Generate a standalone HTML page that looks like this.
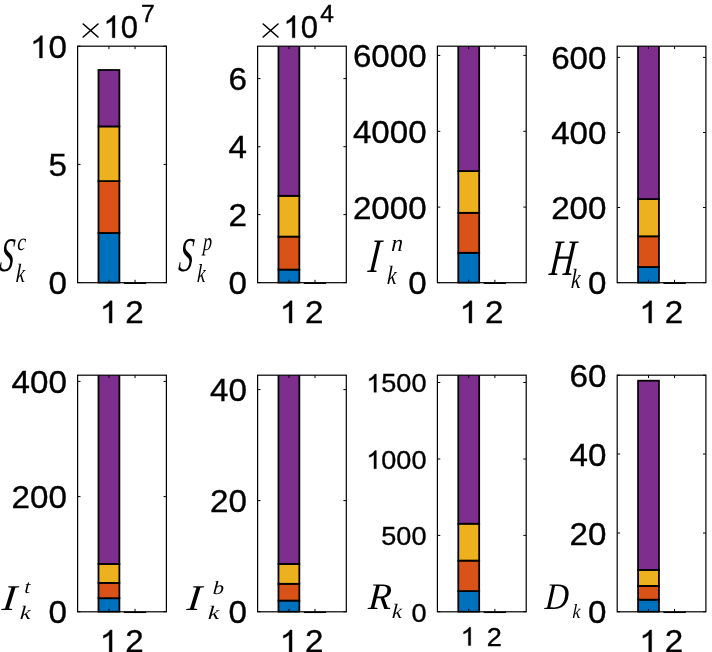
<!DOCTYPE html>
<html><head><meta charset="utf-8"><title>Stacked bars</title>
<style>html,body{margin:0;padding:0;background:#fff;width:712px;height:652px;overflow:hidden}svg{display:block;will-change:transform}</style>
</head><body><svg width="712" height="652" viewBox="0 0 712 652" font-family='"Liberation Sans", sans-serif' fill="#000"><g><clipPath id="c0"><rect x="76.60" y="46.20" width="90.80" height="237.50"/></clipPath><g clip-path="url(#c0)"><rect x="98.49" y="233.00" width="20.89" height="49.70" fill="#0072BD" stroke="#000" stroke-width="1.8"/><rect x="98.49" y="181.10" width="20.89" height="51.90" fill="#D95319" stroke="#000" stroke-width="1.8"/><rect x="98.49" y="126.40" width="20.89" height="54.70" fill="#EDB120" stroke="#000" stroke-width="1.8"/><rect x="98.49" y="70.00" width="20.89" height="56.40" fill="#7E2F8E" stroke="#000" stroke-width="1.8"/></g><line x1="124.61" y1="283.20" x2="145.51" y2="283.20" stroke="#000" stroke-width="1.5" stroke-linecap="square"/><rect x="77.60" y="46.20" width="88.80" height="236.50" fill="none" stroke="#000" stroke-width="1.2"/><path d="M108.94,282.70v-2.90M108.94,46.20v2.90M135.06,282.70v-2.90M135.06,46.20v2.90M77.60,46.20h2.90M166.40,46.20h-2.90M77.60,164.40h2.90M166.40,164.40h-2.90M77.60,282.60h2.90M166.40,282.60h-2.90" stroke="#000" stroke-width="1" fill="none"/><path d="M373,0L285,0L285,-560Q253,-530 202,-500Q150,-469 109,-454L109,-539Q183,-574 238,-623Q293,-672 316,-719L373,-719Z" transform="translate(30.01 57.96) scale(0.03317 0.03100)" stroke="#000" stroke-width="11.3"/><text x="0" y="0" transform="translate(48.45 57.96) scale(1.0700 1)" font-size="31.00" stroke="#000" stroke-width="0.350">0</text><text x="0" y="0" transform="translate(48.45 176.16) scale(1.0700 1)" font-size="31.00" stroke="#000" stroke-width="0.350">5</text><text x="0" y="0" transform="translate(48.45 294.36) scale(1.0700 1)" font-size="31.00" stroke="#000" stroke-width="0.350">0</text><path d="M373,0L285,0L285,-560Q253,-530 202,-500Q150,-469 109,-454L109,-539Q183,-574 238,-623Q293,-672 316,-719L373,-719Z" transform="translate(99.72 323.10) scale(0.03317 0.03100)" stroke="#000" stroke-width="11.3"/><text x="0" y="0" transform="translate(125.14 323.10) scale(1.0700 1)" font-size="31.00" stroke="#000" stroke-width="0.350">2</text></g><g><clipPath id="c1"><rect x="256.60" y="46.20" width="90.70" height="237.50"/></clipPath><g clip-path="url(#c1)"><rect x="278.47" y="269.60" width="20.87" height="13.10" fill="#0072BD" stroke="#000" stroke-width="1.8"/><rect x="278.47" y="236.60" width="20.87" height="33.00" fill="#D95319" stroke="#000" stroke-width="1.8"/><rect x="278.47" y="195.80" width="20.87" height="40.80" fill="#EDB120" stroke="#000" stroke-width="1.8"/><rect x="278.47" y="41.20" width="20.87" height="154.60" fill="#7E2F8E" stroke="#000" stroke-width="1.8"/></g><line x1="304.56" y1="283.20" x2="325.43" y2="283.20" stroke="#000" stroke-width="1.5" stroke-linecap="square"/><rect x="257.60" y="46.20" width="88.70" height="236.50" fill="none" stroke="#000" stroke-width="1.2"/><path d="M288.91,282.70v-2.90M288.91,46.20v2.90M314.99,282.70v-2.90M314.99,46.20v2.90M257.60,78.60h2.90M346.30,78.60h-2.90M257.60,146.70h2.90M346.30,146.70h-2.90M257.60,214.60h2.90M346.30,214.60h-2.90M257.60,282.60h2.90M346.30,282.60h-2.90" stroke="#000" stroke-width="1" fill="none"/><text x="0" y="0" transform="translate(228.45 90.36) scale(1.0700 1)" font-size="31.00" stroke="#000" stroke-width="0.350">6</text><text x="0" y="0" transform="translate(228.45 158.46) scale(1.0700 1)" font-size="31.00" stroke="#000" stroke-width="0.350">4</text><text x="0" y="0" transform="translate(228.45 226.36) scale(1.0700 1)" font-size="31.00" stroke="#000" stroke-width="0.350">2</text><text x="0" y="0" transform="translate(228.45 294.36) scale(1.0700 1)" font-size="31.00" stroke="#000" stroke-width="0.350">0</text><path d="M373,0L285,0L285,-560Q253,-530 202,-500Q150,-469 109,-454L109,-539Q183,-574 238,-623Q293,-672 316,-719L373,-719Z" transform="translate(279.68 323.10) scale(0.03317 0.03100)" stroke="#000" stroke-width="11.3"/><text x="0" y="0" transform="translate(305.07 323.10) scale(1.0700 1)" font-size="31.00" stroke="#000" stroke-width="0.350">2</text></g><g><clipPath id="c2"><rect x="436.40" y="46.20" width="90.80" height="237.50"/></clipPath><g clip-path="url(#c2)"><rect x="458.29" y="252.80" width="20.89" height="29.90" fill="#0072BD" stroke="#000" stroke-width="1.8"/><rect x="458.29" y="212.80" width="20.89" height="40.00" fill="#D95319" stroke="#000" stroke-width="1.8"/><rect x="458.29" y="171.10" width="20.89" height="41.70" fill="#EDB120" stroke="#000" stroke-width="1.8"/><rect x="458.29" y="41.20" width="20.89" height="129.90" fill="#7E2F8E" stroke="#000" stroke-width="1.8"/></g><line x1="484.41" y1="283.20" x2="505.31" y2="283.20" stroke="#000" stroke-width="1.5" stroke-linecap="square"/><rect x="437.40" y="46.20" width="88.80" height="236.50" fill="none" stroke="#000" stroke-width="1.2"/><path d="M468.74,282.70v-2.90M468.74,46.20v2.90M494.86,282.70v-2.90M494.86,46.20v2.90M437.40,55.40h2.90M526.20,55.40h-2.90M437.40,131.30h2.90M526.20,131.30h-2.90M437.40,207.10h2.90M526.20,207.10h-2.90M437.40,282.60h2.90M526.20,282.60h-2.90" stroke="#000" stroke-width="1" fill="none"/><text x="0" y="0" transform="translate(352.92 67.16) scale(1.0700 1)" font-size="31.00" stroke="#000" stroke-width="0.350">6000</text><text x="0" y="0" transform="translate(352.92 143.06) scale(1.0700 1)" font-size="31.00" stroke="#000" stroke-width="0.350">4000</text><text x="0" y="0" transform="translate(352.92 218.86) scale(1.0700 1)" font-size="31.00" stroke="#000" stroke-width="0.350">2000</text><text x="0" y="0" transform="translate(408.25 294.36) scale(1.0700 1)" font-size="31.00" stroke="#000" stroke-width="0.350">0</text><path d="M373,0L285,0L285,-560Q253,-530 202,-500Q150,-469 109,-454L109,-539Q183,-574 238,-623Q293,-672 316,-719L373,-719Z" transform="translate(459.52 323.10) scale(0.03317 0.03100)" stroke="#000" stroke-width="11.3"/><text x="0" y="0" transform="translate(484.94 323.10) scale(1.0700 1)" font-size="31.00" stroke="#000" stroke-width="0.350">2</text></g><g><clipPath id="c3"><rect x="616.20" y="46.20" width="90.70" height="237.50"/></clipPath><g clip-path="url(#c3)"><rect x="638.07" y="267.00" width="20.87" height="15.70" fill="#0072BD" stroke="#000" stroke-width="1.8"/><rect x="638.07" y="236.30" width="20.87" height="30.70" fill="#D95319" stroke="#000" stroke-width="1.8"/><rect x="638.07" y="199.10" width="20.87" height="37.20" fill="#EDB120" stroke="#000" stroke-width="1.8"/><rect x="638.07" y="41.20" width="20.87" height="157.90" fill="#7E2F8E" stroke="#000" stroke-width="1.8"/></g><line x1="664.16" y1="283.20" x2="685.03" y2="283.20" stroke="#000" stroke-width="1.5" stroke-linecap="square"/><rect x="617.20" y="46.20" width="88.70" height="236.50" fill="none" stroke="#000" stroke-width="1.2"/><path d="M648.51,282.70v-2.90M648.51,46.20v2.90M674.59,282.70v-2.90M674.59,46.20v2.90M617.20,57.40h2.90M705.90,57.40h-2.90M617.20,132.50h2.90M705.90,132.50h-2.90M617.20,207.50h2.90M705.90,207.50h-2.90M617.20,282.60h2.90M705.90,282.60h-2.90" stroke="#000" stroke-width="1" fill="none"/><text x="0" y="0" transform="translate(551.17 69.16) scale(1.0700 1)" font-size="31.00" stroke="#000" stroke-width="0.350">600</text><text x="0" y="0" transform="translate(551.17 144.26) scale(1.0700 1)" font-size="31.00" stroke="#000" stroke-width="0.350">400</text><text x="0" y="0" transform="translate(551.17 219.26) scale(1.0700 1)" font-size="31.00" stroke="#000" stroke-width="0.350">200</text><text x="0" y="0" transform="translate(588.05 294.36) scale(1.0700 1)" font-size="31.00" stroke="#000" stroke-width="0.350">0</text><path d="M373,0L285,0L285,-560Q253,-530 202,-500Q150,-469 109,-454L109,-539Q183,-574 238,-623Q293,-672 316,-719L373,-719Z" transform="translate(639.28 323.10) scale(0.03317 0.03100)" stroke="#000" stroke-width="11.3"/><text x="0" y="0" transform="translate(664.67 323.10) scale(1.0700 1)" font-size="31.00" stroke="#000" stroke-width="0.350">2</text></g><g><clipPath id="c4"><rect x="76.60" y="375.20" width="90.80" height="237.60"/></clipPath><g clip-path="url(#c4)"><rect x="98.49" y="598.20" width="20.89" height="13.60" fill="#0072BD" stroke="#000" stroke-width="1.8"/><rect x="98.49" y="582.90" width="20.89" height="15.30" fill="#D95319" stroke="#000" stroke-width="1.8"/><rect x="98.49" y="563.90" width="20.89" height="19.00" fill="#EDB120" stroke="#000" stroke-width="1.8"/><rect x="98.49" y="370.20" width="20.89" height="193.70" fill="#7E2F8E" stroke="#000" stroke-width="1.8"/></g><line x1="124.61" y1="612.30" x2="145.51" y2="612.30" stroke="#000" stroke-width="1.5" stroke-linecap="square"/><rect x="77.60" y="375.20" width="88.80" height="236.60" fill="none" stroke="#000" stroke-width="1.2"/><path d="M108.94,611.80v-2.90M108.94,375.20v2.90M135.06,611.80v-2.90M135.06,375.20v2.90M77.60,381.40h2.90M166.40,381.40h-2.90M77.60,496.60h2.90M166.40,496.60h-2.90M77.60,611.70h2.90M166.40,611.70h-2.90" stroke="#000" stroke-width="1" fill="none"/><text x="0" y="0" transform="translate(11.57 393.16) scale(1.0700 1)" font-size="31.00" stroke="#000" stroke-width="0.350">400</text><text x="0" y="0" transform="translate(11.57 508.36) scale(1.0700 1)" font-size="31.00" stroke="#000" stroke-width="0.350">200</text><text x="0" y="0" transform="translate(48.45 623.46) scale(1.0700 1)" font-size="31.00" stroke="#000" stroke-width="0.350">0</text><path d="M373,0L285,0L285,-560Q253,-530 202,-500Q150,-469 109,-454L109,-539Q183,-574 238,-623Q293,-672 316,-719L373,-719Z" transform="translate(99.72 652.20) scale(0.03317 0.03100)" stroke="#000" stroke-width="11.3"/><text x="0" y="0" transform="translate(125.14 652.20) scale(1.0700 1)" font-size="31.00" stroke="#000" stroke-width="0.350">2</text></g><g><clipPath id="c5"><rect x="256.60" y="375.20" width="90.70" height="237.60"/></clipPath><g clip-path="url(#c5)"><rect x="278.47" y="600.60" width="20.87" height="11.20" fill="#0072BD" stroke="#000" stroke-width="1.8"/><rect x="278.47" y="583.80" width="20.87" height="16.80" fill="#D95319" stroke="#000" stroke-width="1.8"/><rect x="278.47" y="563.90" width="20.87" height="19.90" fill="#EDB120" stroke="#000" stroke-width="1.8"/><rect x="278.47" y="370.20" width="20.87" height="193.70" fill="#7E2F8E" stroke="#000" stroke-width="1.8"/></g><line x1="304.56" y1="612.30" x2="325.43" y2="612.30" stroke="#000" stroke-width="1.5" stroke-linecap="square"/><rect x="257.60" y="375.20" width="88.70" height="236.60" fill="none" stroke="#000" stroke-width="1.2"/><path d="M288.91,611.80v-2.90M288.91,375.20v2.90M314.99,611.80v-2.90M314.99,375.20v2.90M257.60,389.60h2.90M346.30,389.60h-2.90M257.60,500.60h2.90M346.30,500.60h-2.90M257.60,611.70h2.90M346.30,611.70h-2.90" stroke="#000" stroke-width="1" fill="none"/><text x="0" y="0" transform="translate(210.01 401.36) scale(1.0700 1)" font-size="31.00" stroke="#000" stroke-width="0.350">40</text><text x="0" y="0" transform="translate(210.01 512.36) scale(1.0700 1)" font-size="31.00" stroke="#000" stroke-width="0.350">20</text><text x="0" y="0" transform="translate(228.45 623.46) scale(1.0700 1)" font-size="31.00" stroke="#000" stroke-width="0.350">0</text><path d="M373,0L285,0L285,-560Q253,-530 202,-500Q150,-469 109,-454L109,-539Q183,-574 238,-623Q293,-672 316,-719L373,-719Z" transform="translate(279.68 652.20) scale(0.03317 0.03100)" stroke="#000" stroke-width="11.3"/><text x="0" y="0" transform="translate(305.07 652.20) scale(1.0700 1)" font-size="31.00" stroke="#000" stroke-width="0.350">2</text></g><g><clipPath id="c6"><rect x="436.40" y="375.20" width="90.80" height="237.60"/></clipPath><g clip-path="url(#c6)"><rect x="458.29" y="591.10" width="20.89" height="20.70" fill="#0072BD" stroke="#000" stroke-width="1.8"/><rect x="458.29" y="560.60" width="20.89" height="30.50" fill="#D95319" stroke="#000" stroke-width="1.8"/><rect x="458.29" y="523.70" width="20.89" height="36.90" fill="#EDB120" stroke="#000" stroke-width="1.8"/><rect x="458.29" y="370.20" width="20.89" height="153.50" fill="#7E2F8E" stroke="#000" stroke-width="1.8"/></g><line x1="484.41" y1="612.30" x2="505.31" y2="612.30" stroke="#000" stroke-width="1.5" stroke-linecap="square"/><rect x="437.40" y="375.20" width="88.80" height="236.60" fill="none" stroke="#000" stroke-width="1.2"/><path d="M468.74,611.80v-2.90M468.74,375.20v2.90M494.86,611.80v-2.90M494.86,375.20v2.90M437.40,382.50h2.90M526.20,382.50h-2.90M437.40,459.00h2.90M526.20,459.00h-2.90M437.40,535.40h2.90M526.20,535.40h-2.90M437.40,611.70h2.90M526.20,611.70h-2.90" stroke="#000" stroke-width="1" fill="none"/><path d="M373,0L285,0L285,-560Q253,-530 202,-500Q150,-469 109,-454L109,-539Q183,-574 238,-623Q293,-672 316,-719L373,-719Z" transform="translate(366.25 392.30) scale(0.02707 0.02530)" stroke="#000" stroke-width="13.8"/><text x="0" y="0" transform="translate(381.30 392.30) scale(1.0700 1)" font-size="25.30" stroke="#000" stroke-width="0.350">500</text><path d="M373,0L285,0L285,-560Q253,-530 202,-500Q150,-469 109,-454L109,-539Q183,-574 238,-623Q293,-672 316,-719L373,-719Z" transform="translate(366.25 468.80) scale(0.02707 0.02530)" stroke="#000" stroke-width="13.8"/><text x="0" y="0" transform="translate(381.30 468.80) scale(1.0700 1)" font-size="25.30" stroke="#000" stroke-width="0.350">000</text><text x="0" y="0" transform="translate(381.30 545.20) scale(1.0700 1)" font-size="25.30" stroke="#000" stroke-width="0.350">500</text><text x="0" y="0" transform="translate(411.40 621.50) scale(1.0700 1)" font-size="25.30" stroke="#000" stroke-width="0.350">0</text><path d="M373,0L285,0L285,-560Q253,-530 202,-500Q150,-469 109,-454L109,-539Q183,-574 238,-623Q293,-672 316,-719L373,-719Z" transform="translate(460.62 645.50) scale(0.02707 0.02530)" stroke="#000" stroke-width="13.8"/><text x="0" y="0" transform="translate(486.63 645.50) scale(1.0700 1)" font-size="25.30" stroke="#000" stroke-width="0.350">2</text></g><g><clipPath id="c7"><rect x="616.20" y="375.20" width="90.70" height="237.60"/></clipPath><g clip-path="url(#c7)"><rect x="638.07" y="599.70" width="20.87" height="12.10" fill="#0072BD" stroke="#000" stroke-width="1.8"/><rect x="638.07" y="585.90" width="20.87" height="13.80" fill="#D95319" stroke="#000" stroke-width="1.8"/><rect x="638.07" y="569.90" width="20.87" height="16.00" fill="#EDB120" stroke="#000" stroke-width="1.8"/><rect x="638.07" y="380.70" width="20.87" height="189.20" fill="#7E2F8E" stroke="#000" stroke-width="1.8"/></g><line x1="664.16" y1="612.30" x2="685.03" y2="612.30" stroke="#000" stroke-width="1.5" stroke-linecap="square"/><rect x="617.20" y="375.20" width="88.70" height="236.60" fill="none" stroke="#000" stroke-width="1.2"/><path d="M648.51,611.80v-2.90M648.51,375.20v2.90M674.59,611.80v-2.90M674.59,375.20v2.90M617.20,375.20h2.90M705.90,375.20h-2.90M617.20,454.00h2.90M705.90,454.00h-2.90M617.20,533.00h2.90M705.90,533.00h-2.90M617.20,611.70h2.90M705.90,611.70h-2.90" stroke="#000" stroke-width="1" fill="none"/><text x="0" y="0" transform="translate(569.61 386.96) scale(1.0700 1)" font-size="31.00" stroke="#000" stroke-width="0.350">60</text><text x="0" y="0" transform="translate(569.61 465.76) scale(1.0700 1)" font-size="31.00" stroke="#000" stroke-width="0.350">40</text><text x="0" y="0" transform="translate(569.61 544.76) scale(1.0700 1)" font-size="31.00" stroke="#000" stroke-width="0.350">20</text><text x="0" y="0" transform="translate(588.05 623.46) scale(1.0700 1)" font-size="31.00" stroke="#000" stroke-width="0.350">0</text><path d="M373,0L285,0L285,-560Q253,-530 202,-500Q150,-469 109,-454L109,-539Q183,-574 238,-623Q293,-672 316,-719L373,-719Z" transform="translate(639.28 652.20) scale(0.03317 0.03100)" stroke="#000" stroke-width="11.3"/><text x="0" y="0" transform="translate(664.67 652.20) scale(1.0700 1)" font-size="31.00" stroke="#000" stroke-width="0.350">2</text></g><path d="M83.20,24.00L98.00,37.00M98.00,24.00L83.20,37.00" stroke="#000" stroke-width="1.6" stroke-linecap="round"/><path d="M373,0L285,0L285,-560Q253,-530 202,-500Q150,-469 109,-454L109,-539Q183,-574 238,-623Q293,-672 316,-719L373,-719Z" transform="translate(103.42 37.80) scale(0.03100 0.03100)" stroke="#000" stroke-width="11.3"/><text x="0" y="0" transform="translate(120.66 37.80) scale(1.0000 1)" font-size="31.00" stroke="#000" stroke-width="0.350">0</text><text x="0" y="0" transform="translate(141.12 22.24) scale(1.0170 1)" font-size="24.29" font-family='"Liberation Sans"' stroke="#000" stroke-width="0.350">7</text><path d="M263.20,24.00L278.00,37.00M278.00,24.00L263.20,37.00" stroke="#000" stroke-width="1.6" stroke-linecap="round"/><path d="M373,0L285,0L285,-560Q253,-530 202,-500Q150,-469 109,-454L109,-539Q183,-574 238,-623Q293,-672 316,-719L373,-719Z" transform="translate(283.42 37.80) scale(0.03100 0.03100)" stroke="#000" stroke-width="11.3"/><text x="0" y="0" transform="translate(300.66 37.80) scale(1.0000 1)" font-size="31.00" stroke="#000" stroke-width="0.350">0</text><text x="0" y="0" transform="translate(320.29 22.04) scale(1.0127 1)" font-size="24.29" font-family='"Liberation Sans"' stroke="#000" stroke-width="0.350">4</text><text x="0" y="0" transform="translate(-1.30 270.90) skewX(-6.00) scale(0.5827 1)" font-size="48.51" font-family='"Liberation Serif"' font-style="italic">S</text><text x="0" y="0" transform="translate(17.10 250.10) skewX(-3.00) scale(0.7954 1)" font-size="24.55" font-family='"Liberation Serif"' font-style="italic">c</text><text x="0" y="0" transform="translate(15.55 282.44) skewX(-3.00) scale(0.7763 1)" font-size="26.38" font-family='"Liberation Serif"' font-style="italic">k</text><text x="0" y="0" transform="translate(177.79 270.99) skewX(-6.00) scale(0.5871 1)" font-size="48.81" font-family='"Liberation Serif"' font-style="italic">S</text><text x="0" y="0" transform="translate(202.77 250.15) skewX(-3.00) scale(0.7086 1)" font-size="25.29" font-family='"Liberation Serif"' font-style="italic">p</text><text x="0" y="0" transform="translate(196.70 282.44) skewX(-3.00) scale(0.7266 1)" font-size="25.94" font-family='"Liberation Serif"' font-style="italic">k</text><text x="0" y="0" transform="translate(367.15 271.68) skewX(-6.00) scale(0.7404 1)" font-size="48.15" font-family='"Liberation Serif"' font-style="italic">I</text><text x="0" y="0" transform="translate(390.90 250.54) skewX(-3.00) scale(0.9770 1)" font-size="24.00" font-family='"Liberation Serif"' font-style="italic">n</text><text x="0" y="0" transform="translate(386.83 284.34) skewX(-3.00) scale(0.8032 1)" font-size="26.38" font-family='"Liberation Serif"' font-style="italic">k</text><text x="0" y="0" transform="translate(548.48 274.69) skewX(-6.00) scale(0.6792 1)" font-size="51.38" font-family='"Liberation Serif"' font-style="italic">H</text><text x="0" y="0" transform="translate(570.63 287.55) skewX(-3.00) scale(0.7584 1)" font-size="27.83" font-family='"Liberation Serif"' font-style="italic">k</text><text x="0" y="0" transform="translate(1.26 609.66) skewX(-6.00) scale(1.1523 1)" font-size="36.31" font-family='"Liberation Serif"' font-style="italic">I</text><text x="0" y="0" transform="translate(24.13 593.34) skewX(-3.00) scale(1.0831 1)" font-size="19.12" font-family='"Liberation Serif"' font-style="italic">t</text><text x="0" y="0" transform="translate(19.85 618.83) skewX(-3.00) scale(1.2400 1)" font-size="19.13" font-family='"Liberation Serif"' font-style="italic">k</text><text x="0" y="0" transform="translate(186.36 609.86) skewX(-6.00) scale(1.1580 1)" font-size="36.15" font-family='"Liberation Serif"' font-style="italic">I</text><text x="0" y="0" transform="translate(212.50 593.54) skewX(-3.00) scale(1.1967 1)" font-size="18.86" font-family='"Liberation Serif"' font-style="italic">b</text><text x="0" y="0" transform="translate(207.80 618.53) skewX(-3.00) scale(1.3141 1)" font-size="19.13" font-family='"Liberation Serif"' font-style="italic">k</text><text x="0" y="0" transform="translate(367.68 609.16) skewX(-4.00) scale(1.0063 1)" font-size="37.54" font-family='"Liberation Serif"' font-style="italic">R</text><text x="0" y="0" transform="translate(391.79 617.63) skewX(-3.00) scale(1.0994 1)" font-size="20.43" font-family='"Liberation Serif"' font-style="italic">k</text><text x="0" y="0" transform="translate(544.57 609.04) skewX(-4.00) scale(0.8673 1)" font-size="37.65" font-family='"Liberation Serif"' font-style="italic">D</text><text x="0" y="0" transform="translate(572.14 617.63) skewX(-3.00) scale(0.8632 1)" font-size="20.29" font-family='"Liberation Serif"' font-style="italic">k</text></svg></body></html>
